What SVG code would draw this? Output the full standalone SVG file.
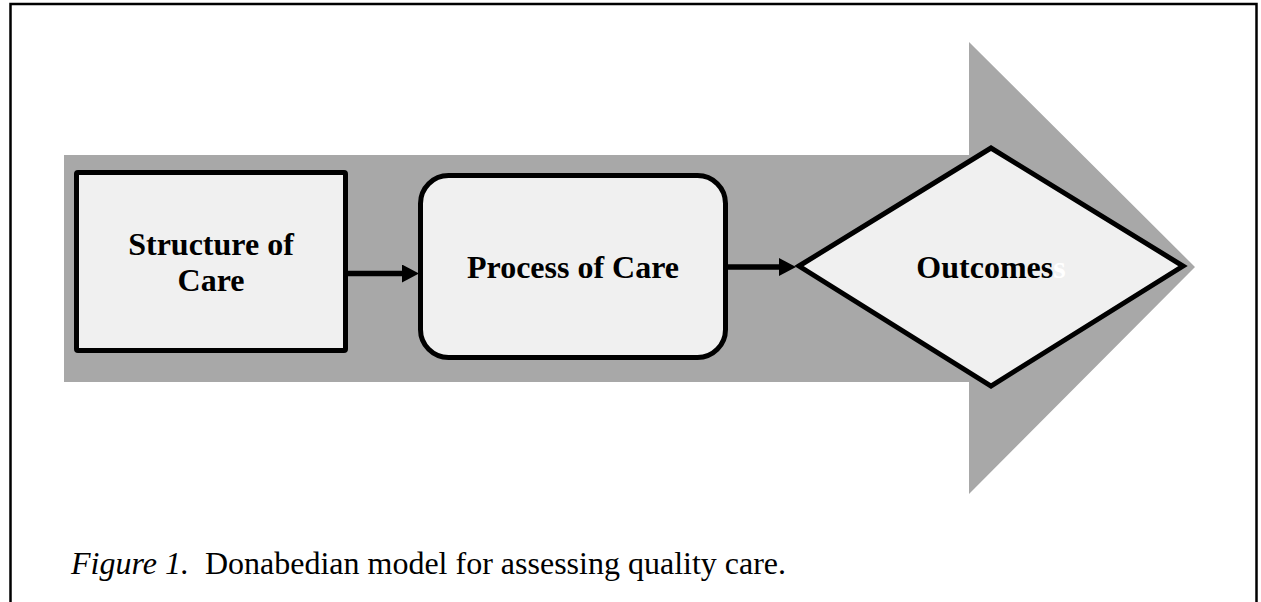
<svg xmlns="http://www.w3.org/2000/svg" width="1261" height="602" viewBox="0 0 1261 602">
  <style>
    .node { fill: #f0f0f0; stroke: #000; stroke-width: 5; stroke-linejoin: miter; }
    .lbl { font-family: "Liberation Serif", serif; font-weight: 700; font-size: 32px; fill: #000; text-anchor: middle; }
    .conn { fill: none; stroke: #000; stroke-width: 5.5; }
    .cap { font-family: "Liberation Serif", serif; font-size: 32px; fill: #000; }
  </style>
  <defs>
    <marker id="ah" viewBox="0 0 17 18" refX="3" refY="9" markerWidth="17" markerHeight="18" orient="auto" markerUnits="userSpaceOnUse">
      <path d="M0,0 L17,9 L0,18 Z" fill="#000"/>
    </marker>
  </defs>
  <rect x="0" y="0" width="1261" height="602" fill="#fff"/>
  <path id="frame" d="M10.5,602 V4 H1256.5 V602" fill="none" stroke="#000" stroke-width="2.5"/>
  <polygon id="big-arrow" points="64,155 969,155 969,42 1195,267 969,494 969,382 64,382" fill="#a8a8a8"/>
  <g id="connectors">
    <path class="conn" d="M348,273.5 H405" marker-end="url(#ah)"/>
    <path class="conn" d="M728,267 H782" marker-end="url(#ah)"/>
  </g>
  <g id="structure">
    <rect class="node" x="76.5" y="172.5" width="269" height="178" rx="1.5"/>
    <text class="lbl" x="211" y="255">Structure of</text>
    <text class="lbl" x="211" y="291">Care</text>
  </g>
  <g id="process">
    <rect class="node" x="420.5" y="175.5" width="305" height="182" rx="28"/>
    <text class="lbl" x="573" y="278">Process of Care</text>
  </g>
  <g id="outcomes">
    <polygon class="node" points="799,266 991,148 1183,266 991,386"/>
    <text class="lbl" x="991" y="278">Outcomes<tspan fill="#fff">s</tspan></text>
  </g>
  <text id="caption" class="cap" x="71" y="574"><tspan font-style="italic">Figure 1.</tspan>&#160; Donabedian model for assessing quality care.</text>
</svg>
